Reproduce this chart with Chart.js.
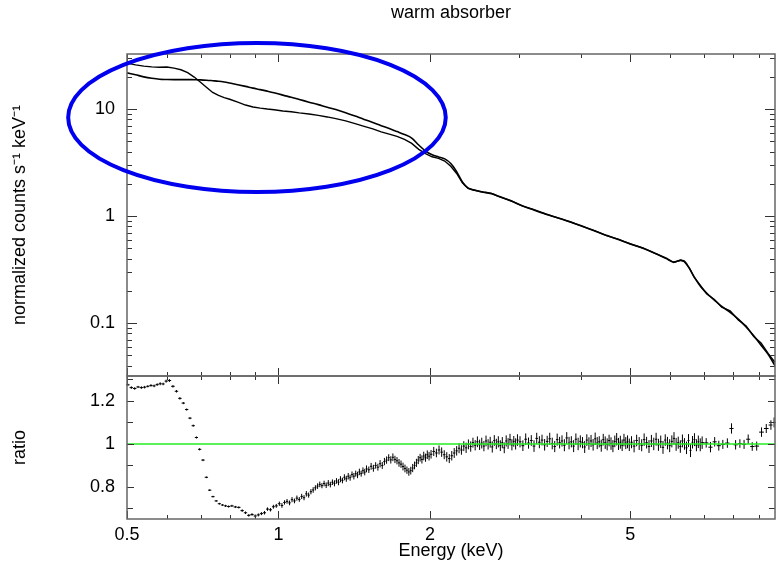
<!DOCTYPE html>
<html>
<head>
<meta charset="utf-8">
<script src="https://cdn.jsdelivr.net/npm/chart.js@4/dist/chart.umd.min.js"></script>
<style>
  html, body { margin: 0; padding: 0; background: #fff; }
  #quadro { position: relative; width: 778px; height: 569px; }
  #quadro canvas { position: absolute; left: 0; top: 0; }
</style>
</head>
<body>
<div id="quadro">
  <canvas id="espectro" width="778" height="569"></canvas>
  <canvas id="razao" width="778" height="569"></canvas>
</div>
<script>
// ---------- Dados ----------

// Painel de cima: energia (keV), modelo e dados (counts s^-1 keV^-1)
const energiaTopo = [
  0.50, 0.52, 0.54, 0.56, 0.58, 0.60, 0.62, 0.64, 0.66, 0.68, 0.70, 0.72, 0.74, 0.76, 0.78, 0.80,
  0.83, 0.86, 0.89, 0.92, 0.95, 0.98, 1.02, 1.06, 1.10, 1.15, 1.20, 1.25, 1.30,
  1.36, 1.42, 1.48, 1.54, 1.60, 1.66, 1.72, 1.78, 1.84, 1.90, 1.96,
  2.02, 2.08, 2.14, 2.20, 2.26, 2.32, 2.38,
  2.45, 2.55, 2.65, 2.75, 2.90, 3.05, 3.20, 3.40, 3.60, 3.80, 4.00,
  4.25, 4.50, 4.75, 5.00, 5.30, 5.60, 5.90,
  6.10, 6.30, 6.40, 6.55, 6.70, 6.90, 7.10, 7.35, 7.60, 7.90, 8.20, 8.50, 8.80, 9.10, 9.40, 9.70,
];
const modeloTopo = [
  21.8, 20.9, 20.0, 19.4, 19.0, 18.9, 18.85, 18.85, 18.85, 18.8, 18.75, 18.6, 18.4, 18.2, 17.9, 17.5,
  16.9, 16.3, 15.7, 15.2, 14.7, 14.2, 13.5, 12.9, 12.3, 11.6, 11.0, 10.4, 9.9,
  9.25, 8.6, 8.0, 7.5, 7.0, 6.57, 6.16, 5.78, 5.36, 4.61, 4.05,
  3.74, 3.57, 3.42, 3.10, 2.60, 2.08, 1.83,
  1.74, 1.68, 1.62, 1.52, 1.38, 1.25, 1.15, 1.04, 0.96, 0.88, 0.81,
  0.725, 0.657, 0.60, 0.55, 0.50, 0.45, 0.40,
  0.372, 0.385, 0.380, 0.326, 0.27, 0.22, 0.19, 0.164, 0.143, 0.126, 0.109, 0.092, 0.076, 0.062, 0.051, 0.040,
];
const dadosTopo = [
  26.9, 25.9, 25.2, 24.8, 24.6, 24.7, 24.1, 23.3, 21.9, 19.9, 17.8, 15.9, 14.3, 13.4, 12.8, 12.35,
  11.6, 10.9, 10.45, 10.2, 10.0, 9.85, 9.6, 9.45, 9.2, 8.98, 8.72, 8.44, 8.13,
  7.75, 7.30, 6.90, 6.52, 6.12, 5.83, 5.55, 5.20, 4.78, 4.20, 3.83,
  3.58, 3.46, 3.27, 2.92, 2.50, 2.05, 1.81,
  1.75, 1.67, 1.63, 1.51, 1.39, 1.245, 1.16, 1.045, 0.955, 0.885, 0.805,
  0.73, 0.652, 0.605, 0.548, 0.503, 0.447, 0.404,
  0.368, 0.388, 0.376, 0.330, 0.268, 0.223, 0.187, 0.166, 0.141, 0.130, 0.107, 0.094, 0.075, 0.065, 0.052, 0.043,
];

// Painel de baixo: razão dados/modelo com barras de erro
const energiaRazao = [
  0.502, 0.510, 0.518, 0.526, 0.534, 0.542, 0.550, 0.558, 0.566, 0.574, 0.582, 0.590, 0.598,
  0.607, 0.617, 0.627, 0.637, 0.647, 0.657, 0.667, 0.677, 0.687, 0.697,
  0.708, 0.719, 0.730, 0.741, 0.752, 0.763, 0.774, 0.785, 0.796,
  0.808, 0.821, 0.834, 0.847, 0.860, 0.873, 0.886, 0.899, 0.912, 0.925, 0.938, 0.951, 0.964, 0.977, 0.990,
  1.004, 1.016, 1.028, 1.040, 1.052, 1.064, 1.076, 1.088, 1.100, 1.112, 1.124, 1.136, 1.148, 1.160,
  1.172, 1.184, 1.196, 1.208, 1.220, 1.232, 1.244, 1.256, 1.268, 1.280, 1.292, 1.304, 1.316, 1.328,
  1.340, 1.352, 1.364, 1.376, 1.388, 1.400, 1.412, 1.424, 1.436, 1.448, 1.460, 1.472, 1.484, 1.496,
  1.512, 1.528, 1.544, 1.560, 1.576, 1.592, 1.608, 1.624, 1.640, 1.656, 1.672, 1.688, 1.704, 1.720,
  1.736, 1.752, 1.768, 1.784, 1.800, 1.816, 1.832, 1.848, 1.864, 1.880, 1.896, 1.912, 1.928, 1.944,
  1.960, 1.976, 1.992,
  2.010, 2.035, 2.060, 2.085, 2.110, 2.135, 2.160, 2.185, 2.210, 2.235, 2.260, 2.285, 2.310, 2.335,
  2.360, 2.385, 2.410, 2.435, 2.460, 2.485, 2.510, 2.535, 2.560, 2.585, 2.610, 2.635, 2.660, 2.685,
  2.710, 2.735, 2.760, 2.785, 2.810, 2.835, 2.860, 2.885, 2.910, 2.935, 2.960, 2.985,
  3.02, 3.06, 3.10, 3.14, 3.18, 3.22, 3.26, 3.30, 3.34, 3.38, 3.42, 3.46, 3.50, 3.54, 3.58, 3.62, 3.66,
  3.70, 3.74, 3.78, 3.82, 3.86, 3.90, 3.94, 3.98, 4.02, 4.06, 4.10, 4.14, 4.18, 4.22, 4.26, 4.30, 4.34,
  4.38, 4.42, 4.46, 4.50, 4.54, 4.58, 4.62, 4.66, 4.70, 4.74, 4.78, 4.82, 4.86, 4.90, 4.94, 4.98,
  5.03, 5.09, 5.15, 5.21, 5.27, 5.33, 5.39, 5.45, 5.51, 5.57, 5.63, 5.69, 5.75, 5.81, 5.87, 5.93, 5.99,
  6.05, 6.11, 6.17, 6.23, 6.29, 6.35, 6.41, 6.47, 6.53, 6.59, 6.65, 6.71, 6.77, 6.83, 6.89, 6.95,
  7.08, 7.22, 7.36, 7.50, 7.64, 7.80, 7.95, 8.10, 8.26, 8.42, 8.58, 8.74, 8.92, 9.12, 9.32, 9.52, 9.66,
];
const razao = [
  1.275, 1.262, 1.258, 1.265, 1.262, 1.264, 1.268, 1.272, 1.270, 1.276, 1.280, 1.279, 1.292,
  1.295, 1.268, 1.245, 1.212, 1.190, 1.160, 1.120, 1.085, 1.030, 0.975,
  0.925, 0.845, 0.785, 0.755, 0.735, 0.722, 0.716, 0.712, 0.709,
  0.712, 0.707, 0.705, 0.690, 0.680, 0.668, 0.672, 0.665, 0.670, 0.676, 0.680, 0.697, 0.694, 0.708, 0.712,
  0.722, 0.714, 0.728, 0.733, 0.726, 0.741, 0.735, 0.748, 0.742, 0.756, 0.750, 0.768, 0.762, 0.778,
  0.786, 0.796, 0.804, 0.812, 0.806, 0.816, 0.808, 0.818, 0.811, 0.822, 0.817, 0.828, 0.822, 0.836,
  0.830, 0.845, 0.838, 0.850, 0.843, 0.858, 0.850, 0.862, 0.856, 0.870, 0.862, 0.876, 0.869, 0.884,
  0.880, 0.896, 0.887, 0.900, 0.892, 0.908, 0.900, 0.918, 0.925, 0.936, 0.926, 0.938, 0.928, 0.922,
  0.912, 0.906, 0.895, 0.886, 0.878, 0.870, 0.876, 0.888, 0.900, 0.912, 0.925, 0.936, 0.928, 0.944,
  0.936, 0.950, 0.943,
  0.952, 0.965, 0.958, 0.972, 0.962, 0.950, 0.940, 0.932, 0.945, 0.958, 0.968, 0.980, 0.972, 0.990,
  0.982, 0.998, 0.988, 1.006, 0.994, 1.010, 0.996, 1.004, 0.990, 1.014, 0.998, 1.008, 0.986, 1.016,
  1.000, 1.010, 0.992, 1.006, 0.982, 1.014, 1.002, 1.020, 0.996, 1.012, 1.000, 1.018,
  1.010, 0.992, 1.022, 1.004, 1.016, 0.990, 1.026, 1.008, 1.018, 0.996, 1.012, 1.024, 1.002, 0.988, 1.020, 1.006, 1.014,
  0.994, 1.028, 1.004, 1.010, 0.990, 1.022, 1.000, 1.012, 1.006, 0.986, 1.018, 1.002, 1.014, 0.996, 1.024, 1.004, 1.010,
  0.992, 1.020, 1.006, 0.998, 1.016, 1.002, 0.990, 1.012, 1.022, 1.000, 1.008, 0.994, 1.018, 1.004, 1.010, 0.996,
  1.008, 0.990, 1.016, 1.002, 0.994, 1.020, 1.006, 0.988, 1.014, 1.000, 1.022, 0.996, 1.010, 0.984, 1.018, 1.004, 0.992,
  1.012, 1.026, 0.998, 1.006, 0.988, 1.014, 1.000, 0.982, 1.016, 0.970, 1.008, 1.020, 0.994, 1.010, 0.996, 1.006,
  1.005, 0.985, 1.010, 0.992, 0.998, 1.004, 1.072, 0.996, 1.002, 0.998, 1.022, 0.988, 0.990, 1.055, 1.072, 1.088, 1.100,
];
const erroRazao = [
  0.005, 0.006, 0.006, 0.005, 0.006, 0.006, 0.005, 0.006, 0.006, 0.006, 0.007, 0.006, 0.007,
  0.007, 0.006, 0.006, 0.006, 0.005, 0.005, 0.005, 0.005, 0.005, 0.005,
  0.005, 0.004, 0.004, 0.004, 0.004, 0.004, 0.004, 0.005, 0.005,
  0.005, 0.005, 0.005, 0.006, 0.006, 0.006, 0.006, 0.007, 0.007, 0.007, 0.008, 0.008, 0.008, 0.009, 0.009,
  0.010, 0.011, 0.010, 0.011, 0.011, 0.012, 0.011, 0.012, 0.011, 0.012, 0.012, 0.013, 0.012, 0.012,
  0.013, 0.012, 0.013, 0.013, 0.012, 0.013, 0.013, 0.014, 0.013, 0.013, 0.014, 0.013, 0.014, 0.014,
  0.013, 0.014, 0.014, 0.015, 0.014, 0.014, 0.015, 0.014, 0.015, 0.015, 0.014, 0.015, 0.015, 0.016,
  0.015, 0.016, 0.016, 0.015, 0.016, 0.017, 0.016, 0.017, 0.017, 0.016, 0.017, 0.018, 0.017, 0.017,
  0.018, 0.017, 0.018, 0.018, 0.017, 0.018, 0.018, 0.019, 0.018, 0.019, 0.019, 0.018, 0.019, 0.020,
  0.019, 0.020, 0.020,
  0.020, 0.021, 0.020, 0.021, 0.022, 0.021, 0.022, 0.021, 0.022, 0.023, 0.022, 0.023, 0.022, 0.023,
  0.024, 0.023, 0.024, 0.023, 0.024, 0.025, 0.024, 0.025, 0.024, 0.025, 0.024, 0.025, 0.026, 0.025,
  0.024, 0.026, 0.025, 0.026, 0.025, 0.026, 0.025, 0.027, 0.026, 0.025, 0.026, 0.027,
  0.026, 0.025, 0.027, 0.026, 0.025, 0.027, 0.026, 0.028, 0.025, 0.027, 0.026, 0.028, 0.027, 0.026, 0.028, 0.027, 0.026,
  0.028, 0.027, 0.029, 0.026, 0.028, 0.027, 0.029, 0.028, 0.026, 0.028, 0.027, 0.029, 0.028, 0.027, 0.029, 0.028, 0.026,
  0.028, 0.027, 0.029, 0.028, 0.027, 0.029, 0.028, 0.027, 0.029, 0.028, 0.030, 0.027, 0.029, 0.028, 0.030, 0.029,
  0.028, 0.029, 0.027, 0.030, 0.028, 0.029, 0.027, 0.030, 0.028, 0.029, 0.030, 0.028, 0.029, 0.030, 0.027, 0.029, 0.030,
  0.028, 0.029, 0.030, 0.028, 0.029, 0.030, 0.027, 0.029, 0.030, 0.031, 0.029, 0.030, 0.028, 0.029, 0.030, 0.029,
  0.022, 0.024, 0.022, 0.023, 0.021, 0.022, 0.024, 0.022, 0.020, 0.021, 0.022, 0.020, 0.021, 0.022, 0.021, 0.022, 0.023,
];

// Marcas dos eixos
const TICKS_X = [0.5, 1, 2, 5];
const TICKS_X_MENOR = [0.6, 0.7, 0.8, 0.9, 3, 4, 6, 7, 8, 9];
const TICKS_Y_TOPO = [0.1, 1, 10];
const TICKS_Y_TOPO_MENOR = [
  0.04, 0.05, 0.06, 0.07, 0.08, 0.09, 0.2, 0.3, 0.4, 0.5, 0.6, 0.7, 0.8, 0.9,
  2, 3, 4, 5, 6, 7, 8, 9, 20, 30,
];
const TICKS_RAZAO = [0.8, 1, 1.2];
const TICKS_RAZAO_MENOR = [0.7, 0.9, 1.1, 1.3];

// Limites dos eixos
const LIMITES_X = [0.5, 9.7];
const LIMITES_Y_TOPO = [0.032, 32.7];
const LIMITES_RAZAO = [0.651, 1.316];

// Elipse de destaque, em unidades dos dados (energia x contagens)
const ELIPSE = { eMin: 0.382, eMax: 2.15, cMin: 1.68, cMax: 41.4 };

// ---------- Estilo comum ----------
const FONTE = "'Liberation Sans', Arial, Helvetica, sans-serif";
Chart.defaults.font.family = FONTE;
Chart.defaults.color = "#000";

const AREA = { esquerda: 127, direita: 3, divisa: 376, base: 519 };

/** Desenha o quadro e as marcas internas (ticks para dentro, nos 4 lados) */
function criarMoldura(id, xMaior, xMenor, yMaior, yMenor, tamMaior, tamMenor) {
  return {
    id,
    afterDatasetsDraw(chart) {
      const { ctx, chartArea: a, scales } = chart;
      ctx.save();
      ctx.strokeStyle = "#333";
      ctx.lineWidth = 1;
      ctx.beginPath();
      const marcaX = (v, len) => {
        const px = Math.round(scales.x.getPixelForValue(v)) + 0.5;
        ctx.moveTo(px, a.bottom); ctx.lineTo(px, a.bottom - len);
        ctx.moveTo(px, a.top); ctx.lineTo(px, a.top + len);
      };
      const marcaY = (v, len) => {
        const py = Math.round(scales.y.getPixelForValue(v)) + 0.5;
        ctx.moveTo(a.left, py); ctx.lineTo(a.left + len, py);
        ctx.moveTo(a.right, py); ctx.lineTo(a.right - len, py);
      };
      xMaior.forEach((v) => marcaX(v, 8));
      xMenor.forEach((v) => marcaX(v, 4));
      yMaior.forEach((v) => marcaY(v, tamMaior));
      yMenor.forEach((v) => marcaY(v, tamMenor));
      ctx.stroke();
      ctx.strokeStyle = "#666";
      ctx.lineWidth = 1.5;
      ctx.strokeRect(a.left, a.top, a.right - a.left, a.bottom - a.top);
      ctx.restore();
    },
  };
}

/** Elipse azul em volta da região de baixa energia */
const pluginElipse = {
  id: "elipse",
  afterDraw(chart) {
    const { ctx, scales } = chart;
    const x1 = scales.x.getPixelForValue(ELIPSE.eMin);
    const x2 = scales.x.getPixelForValue(ELIPSE.eMax);
    const y1 = scales.y.getPixelForValue(ELIPSE.cMax);
    const y2 = scales.y.getPixelForValue(ELIPSE.cMin);
    ctx.save();
    ctx.strokeStyle = "#0000ee";
    ctx.lineWidth = 4;
    ctx.beginPath();
    ctx.ellipse((x1 + x2) / 2, (y1 + y2) / 2, (x2 - x1) / 2, (y2 - y1) / 2, 0, 0, Math.PI * 2);
    ctx.stroke();
    ctx.restore();
  },
};

/** Barras de erro (horizontal = largura do canal, vertical = erro) */
const pluginErros = {
  id: "erros",
  afterDatasetDraw(chart, args) {
    const ds = chart.data.datasets[args.index];
    if (!ds.erroY) return;
    const { ctx, scales } = chart;
    const px = ds.data.map((p) => scales.x.getPixelForValue(p.x));
    ctx.save();
    ctx.strokeStyle = "#000";
    ctx.lineWidth = 1;
    ctx.beginPath();
    ds.data.forEach((p, i) => {
      const esq = i > 0 ? (px[i] + px[i - 1]) / 2 : px[i] - (px[i + 1] - px[i]) / 2;
      const dir = i < px.length - 1 ? (px[i] + px[i + 1]) / 2 : px[i] + (px[i] - px[i - 1]) / 2;
      const py = scales.y.getPixelForValue(p.y);
      const yA = scales.y.getPixelForValue(p.y + ds.erroY[i]);
      const yB = scales.y.getPixelForValue(p.y - ds.erroY[i]);
      ctx.moveTo(esq, py); ctx.lineTo(dir, py);
      ctx.moveTo(px[i], yA); ctx.lineTo(px[i], yB);
    });
    ctx.stroke();
    ctx.restore();
  },
};

const pontos = (xs, ys) => xs.map((x, i) => ({ x, y: ys[i] }));

// ---------- Painel de cima: espectro ----------
new Chart(document.getElementById("espectro"), {
  type: "line",
  data: {
    datasets: [
      {
        label: "modelo",
        data: pontos(energiaTopo, modeloTopo),
        borderColor: "#000",
        borderWidth: 1.6,
        cubicInterpolationMode: "monotone",
        pointRadius: 0,
      },
      {
        label: "dados",
        data: pontos(energiaTopo, dadosTopo),
        borderColor: "#000",
        borderWidth: 1.4,
        pointRadius: 0,
      },
    ],
  },
  options: {
    responsive: false,
    animation: false,
    layout: { padding: { left: 0, right: AREA.direita, top: 0, bottom: 569 - AREA.divisa } },
    scales: {
      x: { type: "logarithmic", min: LIMITES_X[0], max: LIMITES_X[1], display: false },
      y: {
        type: "logarithmic",
        min: LIMITES_Y_TOPO[0],
        max: LIMITES_Y_TOPO[1],
        afterFit: (s) => { s.width = AREA.esquerda; },
        afterBuildTicks: (s) => { s.ticks = TICKS_Y_TOPO.map((v) => ({ value: v })); },
        grid: { display: false, drawTicks: false },
        border: { display: false },
        ticks: { autoSkip: false, padding: 12, font: { size: 18 }, callback: (v) => String(v) },
        title: {
          display: true,
          text: "normalized counts s\u207B\u00B9 keV\u207B\u00B9",
          font: { size: 18 },
          padding: { top: 9, bottom: 0 },
        },
      },
    },
    plugins: {
      legend: { display: false },
      tooltip: { enabled: false },
      title: {
        display: true,
        text: "warm absorber",
        fullSize: false,
        font: { size: 18, weight: "normal" },
        padding: { top: 2, bottom: 30.4 },
      },
    },
  },
  plugins: [
    criarMoldura("molduraTopo", TICKS_X, TICKS_X_MENOR, TICKS_Y_TOPO, TICKS_Y_TOPO_MENOR, 10, 5),
    pluginElipse,
  ],
});

// ---------- Painel de baixo: razão ----------
new Chart(document.getElementById("razao"), {
  type: "line",
  data: {
    datasets: [
      {
        label: "unidade",
        data: [{ x: LIMITES_X[0], y: 1 }, { x: LIMITES_X[1], y: 1 }],
        borderColor: "#22ee22",
        borderWidth: 1.5,
        pointRadius: 0,
      },
      {
        label: "razão",
        data: pontos(energiaRazao, razao),
        erroY: erroRazao,
        showLine: false,
        pointRadius: 0,
      },
    ],
  },
  options: {
    responsive: false,
    animation: false,
    layout: { padding: { left: 0, right: AREA.direita, top: AREA.divisa, bottom: 0 } },
    scales: {
      x: {
        type: "logarithmic",
        min: LIMITES_X[0],
        max: LIMITES_X[1],
        afterFit: (s) => { s.height = 569 - AREA.base; },
        afterBuildTicks: (s) => { s.ticks = TICKS_X.map((v) => ({ value: v })); },
        grid: { display: false, drawTicks: false },
        border: { display: false },
        ticks: { autoSkip: false, maxRotation: 0, padding: 5, font: { size: 18 }, callback: (v) => String(v) },
        title: { display: true, text: "Energy (keV)", font: { size: 18 }, padding: { top: 0, bottom: 7 } },
      },
      y: {
        min: LIMITES_RAZAO[0],
        max: LIMITES_RAZAO[1],
        afterFit: (s) => { s.width = AREA.esquerda; },
        afterBuildTicks: (s) => { s.ticks = TICKS_RAZAO.map((v) => ({ value: v })); },
        grid: { display: false, drawTicks: false },
        border: { display: false },
        ticks: { autoSkip: false, padding: 12, font: { size: 18 }, callback: (v) => String(v) },
        title: { display: true, text: "ratio", font: { size: 18 }, padding: { top: 9, bottom: 0 } },
      },
    },
    plugins: { legend: { display: false }, tooltip: { enabled: false } },
  },
  plugins: [
    criarMoldura("molduraRazao", TICKS_X, TICKS_X_MENOR, TICKS_RAZAO, TICKS_RAZAO_MENOR, 7, 6),
    pluginErros,
  ],
});
</script>
</body>
</html>
